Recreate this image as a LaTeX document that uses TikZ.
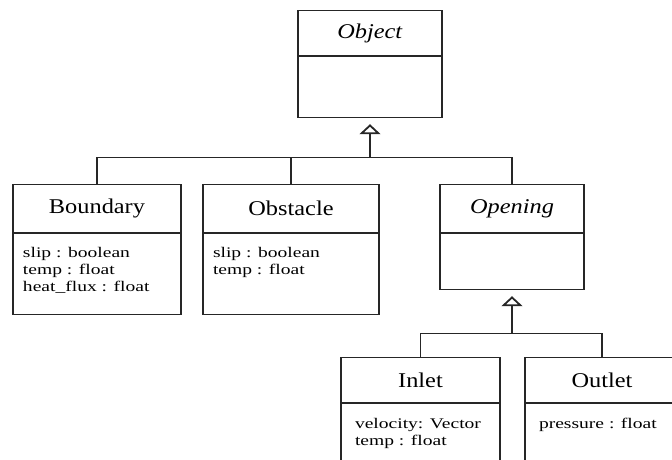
\documentclass[tikz,border=0pt]{standalone}
\usepackage{fontspec}
\setmainfont{Liberation Serif}
\newfontfamily\classfamily{Liberation Serif}[FakeStretch=1.16]
\newfontfamily\attrfamily{Liberation Serif}[FakeStretch=1.33]
\usetikzlibrary{arrows.meta,positioning}

\newcommand{\classfont}{\classfamily\fontsize{21}{24}\selectfont}
\newcommand{\attrfont}{\attrfamily\fontsize{14.7}{16.7}\selectfont}

\begin{document}
\begin{tikzpicture}
      [x=1pt, y=-1pt, line width=1.1pt, draw=black!85,
      classhead/.style={draw, anchor=north, inner sep=0pt, font=\classfont},
      classbody/.style={draw, anchor=north, inner sep=0pt},
      attrs/.style={anchor=north west, inner sep=0pt, align=left, font=\attrfont},
      inherit/.style={-{Triangle[open, length=10pt, width=21pt, line width=1.8pt]}, shorten >=6pt}]

      \useasboundingbox (0,0) rectangle (672,459);

      % abstract base class
      \node [classhead, minimum width=144, minimum height=45] (object) at (370,10) {\textit{Object}};
      \node [classbody, minimum width=144, minimum height=61] (object-attr) at (object.south) {};

      % first level
      \node [classhead, minimum width=168, minimum height=48] (boundary) at (97,184) {Boundary};
      \node [classbody, minimum width=168, minimum height=81] (boundary-attr) at (boundary.south) {};
      \node [attrs] (boundary-text) at ([xshift=10pt, yshift=-14pt]boundary-attr.north west)
      {slip : boolean\\temp : float\\heat\_flux : float};

      \node [classhead, minimum width=176, minimum height=48] (obstacle) at (291,184) {Obstacle};
      \node [classbody, minimum width=176, minimum height=81] (obstacle-attr) at (obstacle.south) {};
      \node [attrs] (obstacle-text) at ([xshift=10pt, yshift=-14pt]obstacle-attr.north west)
      {slip : boolean\\temp : float};

      \node [classhead, minimum width=144, minimum height=48] (opening) at (512,184) {\textit{Opening}};
      \node [classbody, minimum width=144, minimum height=56] (opening-attr) at (opening.south) {};

      % second level
      \node [classhead, minimum width=159, minimum height=45] (inlet) at (420.5,357) {Inlet};
      \node [classbody, minimum width=159, minimum height=70] (inlet-attr) at (inlet.south) {};
      \node [attrs] (inlet-text) at ([xshift=14pt, yshift=-14.5pt]inlet-attr.north west)
      {velocity: Vector\\temp : float};

      \node [classhead, minimum width=154, minimum height=45] (outlet) at (602,357) {Outlet};
      \node [classbody, minimum width=154, minimum height=70] (outlet-attr) at (outlet.south) {};
      \node [attrs] (outlet-text) at ([xshift=14pt, yshift=-14.5pt]outlet-attr.north west)
      {pressure : float};

      % generalisation
      \coordinate (objbus) at ([yshift=-39.5pt]object-attr.south);
      \draw (boundary.north) |- (objbus) -| (opening.north);
      \draw (obstacle.north) -- (obstacle.north |- objbus);
      \draw [inherit] (objbus) -- (object-attr.south);

      \coordinate (openbus) at ([yshift=-43pt]opening-attr.south);
      \draw (inlet.north) |- (openbus) -| (outlet.north);
      \draw [inherit] (openbus) -- (opening-attr.south);
    \end{tikzpicture}
\end{document}
